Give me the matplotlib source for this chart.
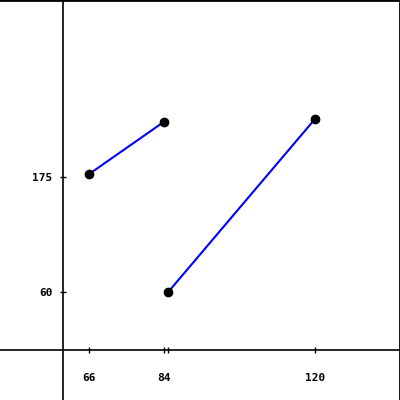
import matplotlib
matplotlib.use("Agg")
import matplotlib.pyplot as plt

# two separate segments
seg1_x = [66, 84]
seg1_y = [178, 231]
seg2_x = [85, 120]
seg2_y = [60, 234]

xticks = [66, 84, 85, 120]
xtick_labels = ["66", "84", "", "120"]
yticks = [60, 175]
ytick_labels = ["60", "175"]

fig = plt.figure(figsize=(4, 4), dpi=100)
fig.patch.set_edgecolor("black")
fig.patch.set_linewidth(2)

ax = fig.add_axes([0, 0, 1, 1])
ax.set_xlim(44.86, 140.19)
ax.set_ylim(-48.8, 353.2)

for xs, ys in [(seg1_x, seg1_y), (seg2_x, seg2_y)]:
    ax.plot(xs, ys, color="#0000ff", linewidth=1.5, zorder=2)
    ax.plot(xs, ys, "o", color="black", markersize=6, zorder=3)

ax.spines["left"].set_position(("axes", 63 / 400))
ax.spines["bottom"].set_position(("axes", 50 / 400))
for s in ax.spines.values():
    s.set_linewidth(1.2)
ax.spines["top"].set_linewidth(2)
ax.spines["right"].set_linewidth(2)

ax.set_xticks(xticks)
ax.set_xticklabels(xtick_labels)
ax.set_yticks(yticks)
ax.set_yticklabels(ytick_labels)
ax.tick_params(direction="inout", length=5, width=1, labelsize=8)
ax.tick_params(axis="x", pad=14)
ax.tick_params(axis="y", pad=5)
for lbl in ax.get_xticklabels() + ax.get_yticklabels():
    lbl.set_family("DejaVu Sans Mono")
    lbl.set_fontweight("bold")

fig.savefig("out.png", dpi=100)
